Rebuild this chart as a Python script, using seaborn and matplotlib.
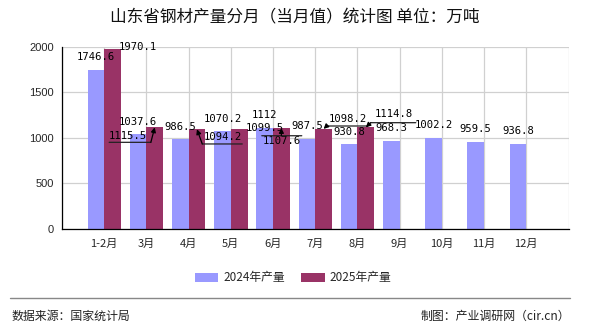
import matplotlib
matplotlib.use("Agg")
import matplotlib.pyplot as plt
import numpy as np
import pandas as pd
import seaborn as sns
from matplotlib.patches import Patch
from matplotlib.lines import Line2D
from matplotlib.transforms import offset_copy

# ---------------- data ----------------
months = ["1-2月", "3月", "4月", "5月", "6月", "7月", "8月", "9月", "10月", "11月", "12月"]
series = ["2024年产量", "2025年产量"]
v2024 = [1746.6, 1037.6, 986.5, 1070.2, 1112, 987.5, 930.8, 968.3, 1002.2, 959.5, 936.8]
v2025 = [1970.1, 1115.5, 1094.2, 1099.5, 1107.6, 1098.2, 1114.8]
colors = ["#9999FF", "#993366"]
yticks = [0, 500, 1000, 1500, 2000]
title = "山东省钢材产量分月（当月值）统计图 单位：万吨"
source = "数据来源：国家统计局"
maker = "制图：产业调研网（cir.cn）"

df = pd.DataFrame(
    [(m, series[0], v) for m, v in zip(months, v2024)]
    + [(m, series[1], v) for m, v in zip(months, v2025)],
    columns=["月份", "系列", "产量"],
)

# ---------------- style ----------------
sns.set_style("white")
plt.rcParams["font.family"] = ["Noto Sans CJK SC", "DejaVu Sans"]

W, H = 590, 330
fig = plt.figure(figsize=(W / 100, H / 100), dpi=100)
ax = fig.add_axes([62 / W, 1 - 229 / H, (568.5 - 62) / W, (229 - 46.7) / H])

sns.barplot(data=df, x="月份", y="产量", hue="系列", order=months, hue_order=series,
            palette=colors, saturation=1, errorbar=None, width=0.79, ax=ax,
            legend=False, linewidth=0)

ax.set_xlim(-1, len(months))
ax.set_ylim(0, 2000)
ax.set_xlabel("")
ax.set_ylabel("")

# ticks / grid
ax.set_xticks(range(len(months)))
ax.set_xticklabels(months, fontsize=8)
ax.set_xticks([-1, len(months)], minor=True)
ax.set_yticks(yticks)
ax.set_yticklabels([str(t) for t in yticks], fontsize=8, family="Liberation Sans")
ax.tick_params(axis="both", which="both", direction="out", length=4, width=0.8,
               color="black", pad=2)
ax.tick_params(axis="x", pad=3)
ax.grid(True, which="both", color="#d0d0d0", lw=0.9)
ax.set_axisbelow(True)
for s in ["top", "right"]:
    ax.spines[s].set_visible(False)
for s in ["left", "bottom"]:
    ax.spines[s].set_color("black")
    ax.spines[s].set_linewidth(0.9)

# ---------------- labels ----------------
label_font = dict(fontsize=7.6, family="DejaVu Sans Mono", color="black")
normal = (0, 12.5)
# special label placements: (series, index) -> dx, dy, line(lx0, lx1, ly), connect x
special = {
    (1, 0): dict(d=(25.3, 2.7)),
    (1, 3): dict(d=(25.2, 1.1)),
    (1, 1): dict(d=(-26.4, -8.7), line=(-19.2, 22.5, -6.3), cx=22.5),
    (1, 2): dict(d=(26.1, -8.0), line=(-20.8, 19.2, -6.7), cx=-20.8),
    (1, 4): dict(d=(0.4, -13.0), line=(-20.0, 20.0, 5.3), cx=-0.4),
    (1, 5): dict(d=(24.1, 9.9), line=(-21.0, 20.0, -7.0), cx=-21.0),
    (1, 6): dict(d=(28.0, 13.1), line=(-23.0, 22.0, -8.4), cx=-23.0),
}
vals = [v2024, v2025]
for si, cont in enumerate(ax.containers[:2]):
    for i, bar in enumerate(cont.patches):
        if i >= len(vals[si]):
            break
        v = vals[si][i]
        bx = bar.get_x() + bar.get_width() / 2
        by = bar.get_height()
        if np.isnan(by):
            continue
        spec = special.get((si, i), {})
        dx, dy = spec.get("d", normal)
        ax.annotate(f"{v:g}", xy=(bx, by), xytext=(dx, dy), textcoords="offset pixels",
                    ha="center", va="center", annotation_clip=False, **label_font)
        if "line" in spec:
            lx0, lx1, ly = spec["line"]
            t0 = offset_copy(ax.transData, fig=fig, x=dx + lx0, y=dy + ly, units="dots")
            t1 = offset_copy(ax.transData, fig=fig, x=dx + lx1, y=dy + ly, units="dots")
            ax.annotate("", xy=(bx, by), xycoords=t1, xytext=(bx, by), textcoords=t0,
                        arrowprops=dict(arrowstyle="-", color="#222222", lw=0.9,
                                        shrinkA=0, shrinkB=0), annotation_clip=False)
            tc = offset_copy(ax.transData, fig=fig, x=dx + spec["cx"], y=dy + ly, units="dots")
            ax.annotate("", xy=(bx, by), xycoords="data", xytext=(bx, by), textcoords=tc,
                        arrowprops=dict(arrowstyle="-|>", color="black", lw=0.9,
                                        mutation_scale=7, shrinkA=0, shrinkB=0),
                        annotation_clip=False)

# ---------------- title, legend, footer ----------------
fig.text(0.5, 1 - 18 / H, title, ha="center", va="center", fontsize=12, color="#111111")

handles = [Patch(facecolor=c, edgecolor="none") for c in colors]
fig.legend(handles, series, loc="center", bbox_to_anchor=(293 / W, 1 - 278 / H), ncol=2,
           frameon=False, fontsize=8.5, handlelength=2.0, handleheight=0.9,
           columnspacing=1.4, handletextpad=0.4)

fig.add_artist(Line2D([10 / W, 570 / W], [1 - 298 / H, 1 - 298 / H], transform=fig.transFigure,
                      color="#888888", lw=1))
fig.text(12 / W, 1 - 316 / H, source, ha="left", va="center", fontsize=8.6, color="#222222")
fig.text(570 / W, 1 - 316 / H, maker, ha="right", va="center", fontsize=8.6, color="#222222")

fig.savefig("out.png", dpi=100)
